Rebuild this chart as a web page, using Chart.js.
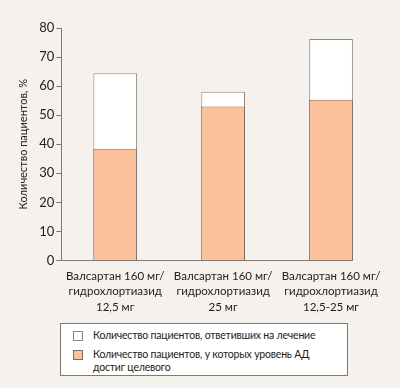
<!DOCTYPE html>
<html>
<head>
<meta charset="utf-8">
<script src="https://cdn.jsdelivr.net/npm/chart.js@4"></script>
<style>
  html, body { margin: 0; padding: 0; background: #f5f2ee; }
  #wrap { position: relative; width: 400px; height: 388px; }
  #legend {
    position: absolute; left: 60px; top: 323px; width: 286px; height: 51px;
    background: #fff; border: 1px solid #7d7874;
    font-family: Lato, sans-serif; font-size: 10.5px; letter-spacing: -0.2px; color: #222;
  }
  .item { position: absolute; left: 12px; display: flex; }
  .box { width: 8px; height: 8px; margin-top: 2px; margin-right: 10px; flex: none; }
  .txt { width: 240px; line-height: 13px; }
</style>
</head>
<body>
<div id="wrap">
  <canvas id="myChart" width="400" height="388"></canvas>
  <div id="legend"></div>
</div>
<script>
var categories = [
    ['Валсартан 160 мг/', 'гидрохлортиазид', '12,5 мг'],
    ['Валсартан 160 мг/', 'гидрохлортиазид', '25 мг'],
    ['Валсартан 160 мг/', 'гидрохлортиазид', '12,5-25 мг']
];
var responded = [64.4, 58.1, 76.2];
var reachedTarget = [38.4, 53.0, 55.3];
var seriesNames = [
    'Количество пациентов, ответивших на лечение',
    'Количество пациентов, у которых уровень АД достиг целевого'
];
var yTicks = [0, 10, 20, 30, 40, 50, 60, 70, 80];

// x axis line only runs up to the right edge of the last bar
var baseline = {
    id: 'baseline',
    afterDatasetsDraw: function (chart) {
        var ctx = chart.ctx;
        var meta = chart.getDatasetMeta(0);
        var last = meta.data[meta.data.length - 1];
        var y = Math.round(chart.scales.y.getPixelForValue(0)) + 0.5;
        ctx.save();
        ctx.strokeStyle = '#7d7874';
        ctx.lineWidth = 1;
        ctx.beginPath();
        ctx.moveTo(chart.chartArea.left, y);
        ctx.lineTo(last.x + last.width / 2, y);
        ctx.stroke();
        ctx.restore();
    }
};

var ctx = document.getElementById('myChart');
var myChart = new Chart(ctx, {
    type: 'bar',
    data: {
        labels: categories,
        datasets: [{
            label: seriesNames[0],
            data: responded,
            backgroundColor: '#ffffff',
            borderColor: '#8e8984',
            borderWidth: 1,
            order: 1
        }, {
            label: seriesNames[1],
            data: reachedTarget,
            backgroundColor: '#fbc19b',
            borderColor: '#7a6c64',
            borderWidth: 1,
            order: 0
        }]
    },
    plugins: [baseline],
    options: {
        responsive: false,
        animation: false,
        layout: { padding: { top: 28, right: 15, bottom: 65, left: 13 } },
        datasets: {
            bar: { grouped: false, categoryPercentage: 1, barPercentage: 0.405 }
        },
        scales: {
            x: {
                grid: { display: false, tickLength: 0 },
                border: { display: false },
                ticks: {
                    color: '#222',
                    padding: 8,
                    maxRotation: 0,
                    font: { family: 'Lato', size: 11.5, lineHeight: 1.35 }
                }
            },
            y: {
                min: 0,
                max: 80,
                afterBuildTicks: function (scale) {
                    scale.ticks = yTicks.map(function (v) { return { value: v }; });
                },
                grid: { drawOnChartArea: false, tickLength: 5, color: '#7d7874' },
                border: { display: true, color: '#7d7874' },
                ticks: {
                    color: '#222',
                    padding: 2,
                    font: { family: 'Lato', size: 13 }
                },
                title: {
                    display: true,
                    text: 'Количество пациентов, %',
                    color: '#222',
                    padding: { bottom: 7 },
                    font: { family: 'Lato', size: 11 }
                }
            }
        },
        plugins: {
            legend: { display: false },
            tooltip: { enabled: false }
        }
    }
});

// html legend, so the long label can wrap like in the picture
var legend = document.getElementById('legend');
var tops = [5, 24];
myChart.data.datasets.forEach(function (ds, i) {
    var item = document.createElement('div');
    item.className = 'item';
    item.style.top = tops[i] + 'px';
    var box = document.createElement('div');
    box.className = 'box';
    box.style.background = ds.backgroundColor;
    box.style.border = '1px solid ' + ds.borderColor;
    var txt = document.createElement('div');
    txt.className = 'txt';
    txt.textContent = ds.label;
    item.appendChild(box);
    item.appendChild(txt);
    legend.appendChild(item);
});
</script>
</body>
</html>
